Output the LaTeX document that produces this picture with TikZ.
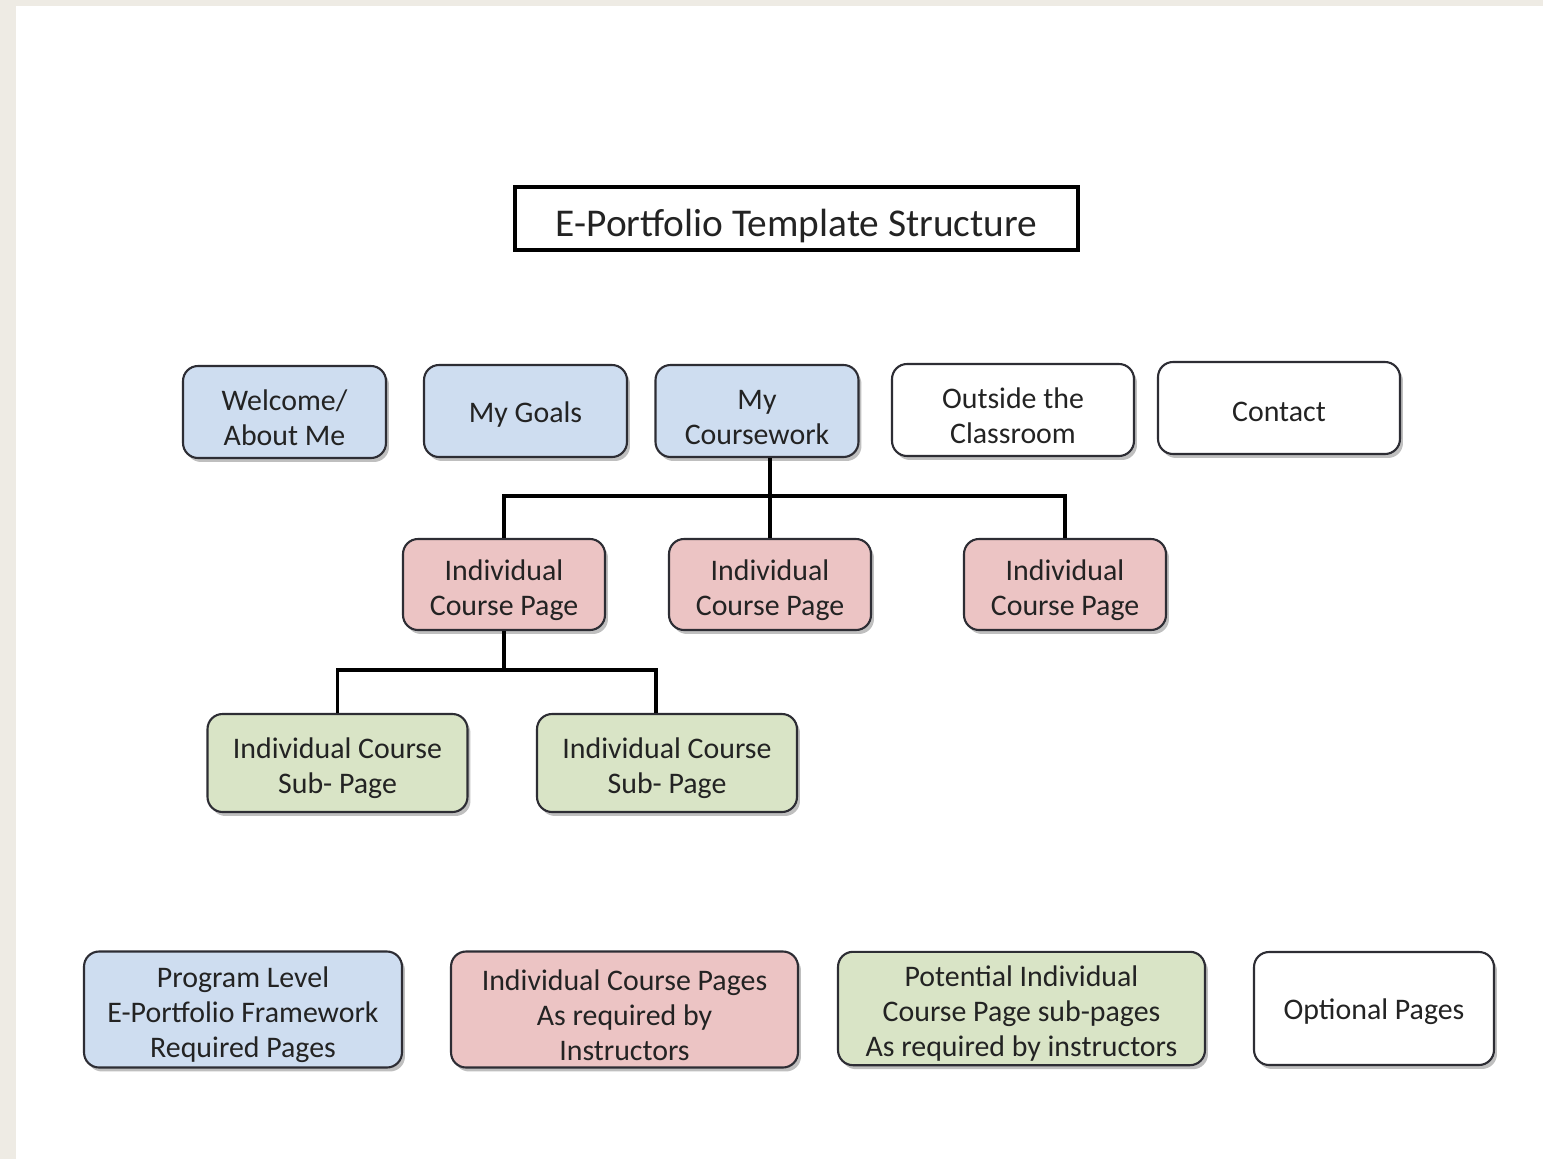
\documentclass[tikz,border=0pt]{standalone}
\usepackage{fontspec}
\setmainfont{Carlito}
\usepackage{tikz}
\usetikzlibrary{positioning,calc,shadows}
\usepackage{xcolor}
\definecolor{bgcol}{RGB}{238,235,228}
\definecolor{reqcol}{RGB}{206,221,240}
\definecolor{coursecol}{RGB}{236,196,196}
\definecolor{subcol}{RGB}{217,228,198}
\definecolor{edgecol}{RGB}{45,45,52}
\definecolor{txtcol}{RGB}{35,35,35}
% strut to push multi-line labels down a little
\newcommand{\lup}{\rule{0pt}{18pt}}
\tikzset{
  % page box
  pbox/.style={rectangle, rounded corners=0.3cm, draw=edgecol, line width=1.2pt, fill=#1,
               text=txtcol, align=center, inner sep=2pt,
               font=\fontsize{17}{19.9}\selectfont,
               execute at begin node={\rule{0pt}{16pt}},
               drop shadow={shadow xshift=0.06cm, shadow yshift=-0.08cm, fill=black, opacity=0.25}},
  pbox/.default={white},
  % tree connector
  link/.style={line width=2pt, black},
  % title
  titlebox/.style={rectangle, draw=black, line width=1.8pt, fill=white, text=txtcol,
                   minimum width=11.26cm, minimum height=1.26cm,
                   execute at begin node={\rule{0pt}{24pt}},
                   font=\fontsize{22.4}{26}\selectfont},
}

\begin{document}
\begin{tikzpicture}[x=0.02cm, y=-0.02cm]
  % background
  \fill[bgcol] (0,0) rectangle (1543,1159);
  \fill[white] (16,6) rectangle (1543,1159);

  % title
  \node[titlebox] (title) at (796.5,218.5) {E-Portfolio Template Structure};

  % top level pages
  \node[pbox=reqcol, minimum width=4.06cm, minimum height=1.84cm] (welcome) at (284.5,412) {\lup Welcome/\\About Me};
  \node[pbox=reqcol, minimum width=4.06cm, minimum height=1.84cm] (goals) at (525.5,411) {My Goals};
  \node[pbox=reqcol, minimum width=4.06cm, minimum height=1.84cm] (work) at (757,411) {\lup My\\Coursework};
  \node[pbox, minimum width=4.84cm, minimum height=1.84cm] (outside) at (1013,410) {\lup Outside the\\Classroom};
  \node[pbox, minimum width=4.84cm, minimum height=1.84cm] (contact) at (1279,408) {Contact};

  % course pages
  \node[pbox=coursecol, minimum width=4.04cm, minimum height=1.82cm] (icpA) at (504,584.5) {\lup Individual\\Course Page};
  \node[pbox=coursecol, minimum width=4.04cm, minimum height=1.82cm] (icpB) at (770,584.5) {\lup Individual\\Course Page};
  \node[pbox=coursecol, minimum width=4.04cm, minimum height=1.82cm] (icpC) at (1065,584.5) {\lup Individual\\Course Page};

  % sub pages
  \node[pbox=subcol, minimum width=5.2cm, minimum height=1.96cm] (subA) at (337.5,763) {\lup Individual Course\\Sub- Page};
  \node[pbox=subcol, minimum width=5.2cm, minimum height=1.96cm] (subB) at (667,763) {\lup Individual Course\\Sub- Page};

  % connectors
  \coordinate (busA) at (770,496);
  \coordinate (busB) at (504,670);
  \coordinate (subBin) at ($(subB.north)+(-11,0)$);
  \draw[link] (work.south -| icpB.north) -- (icpB.north);
  \draw[link] (icpA.north) |- (busA) -| (icpC.north);
  \draw[link] (icpA.south) -- (busB);
  \draw[link] (subA.north) |- (busB) -| (subBin);

  % legend
  \node[pbox=reqcol, minimum width=6.36cm, minimum height=2.32cm] (keyreq) at (243,1009.5) {\lup Program Level\\E-Portfolio Framework\\Required Pages};
  \node[pbox=coursecol, minimum width=6.94cm, minimum height=2.32cm] (keycourse) at (624.5,1009.5) {\lup Individual Course Pages\\As required by\\Instructors};
  \node[pbox=subcol, minimum width=7.34cm, minimum height=2.26cm] (keysub) at (1021.5,1008.5) {\lup Potential Individual\\Course Page sub-pages\\As required by instructors};
  \node[pbox, minimum width=4.8cm, minimum height=2.26cm] (keyopt) at (1374,1008.5) {Optional Pages};
\end{tikzpicture}
\end{document}
